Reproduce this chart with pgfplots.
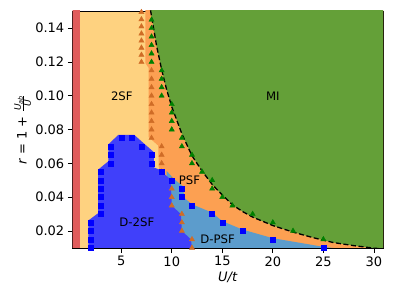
\documentclass[border=0pt]{standalone}
\usepackage{amsmath}
\usepackage{pgfplots}
\pgfplotsset{compat=1.18}
\usepackage{fontspec}
\setmainfont{DejaVu Sans}
\definecolor{lorange}{RGB}{254,210,128}
\definecolor{porange}{RGB}{252,160,82}
\definecolor{mgreen}{RGB}{100,160,56}
\definecolor{dblue}{RGB}{64,64,250}
\definecolor{lblue}{RGB}{92,156,204}
\definecolor{redband}{RGB}{224,92,92}
\definecolor{triorange}{RGB}{208,108,38}
\definecolor{trigreen}{RGB}{0,128,0}
\definecolor{sqblue}{RGB}{0,0,255}
\begin{document}
\begin{tikzpicture}
\path[use as bounding box] (-72.7pt,-48pt) rectangle (321.3pt,248pt);
\begin{axis}[
  scale only axis, width=310.3pt, height=237pt,
  xmin=0.2, xmax=30.9, ymin=0.0099, ymax=0.1502,
  xtick={5,10,15,20,25,30},
  ytick={0.02,0.04,0.06,0.08,0.10,0.12,0.14},
  scaled y ticks=false,
  yticklabel style={/pgf/number format/fixed, /pgf/number format/fixed zerofill, /pgf/number format/precision=2},
  /pgf/number format/assume math mode=true,
  tick align=outside, tick pos=left, major tick length=4.9pt,
  tick style={black, line width=0.8pt},
  tick label style={font=\fontsize{13}{15}\selectfont},
  axis line style={line width=0.9pt},
  axis background/.style={fill=lorange},
  xlabel={\textit{U/t}},
  ylabel={\textit{r} = 1 + $\frac{\textit{U}_{\textit{ab}}}{\textit{U}}$},
  label style={font=\fontsize{13}{15}\selectfont},
  xlabel style={at={(axis description cs:0.5,-0.1224)}, anchor=center},
  ylabel style={at={(axis description cs:-0.161,0.5)}, anchor=center},
]
% PSF orange region
\addplot[fill=porange, draw=none] coordinates {
(7.38,0.16) (7.38,0.1195) (7.72,0.1165) (7.72,0.0755) (8.66,0.0705) (8.72,0.0565)
(10,0.045) (12,0.005) (32,0.005) (32,0.16)};
% D-PSF light blue
\addplot[fill=lblue, draw=none] coordinates {
(9.5,0.0555) (10.2,0.0508) (11.1,0.0465) (11.25,0.0395) (12,0.0358) (14,0.0308)
(15,0.0258) (17,0.0208) (20,0.0157) (25,0.0106) (26.5,0.0095) (26.5,0.005) (9.5,0.005)};
% D-2SF blue
\addplot[fill=dblue, draw=none] coordinates {
(1.75,0.005) (1.75,0.0262) (2.72,0.0305) (2.72,0.0563) (3.72,0.0612) (3.72,0.0712)
(4.7,0.0768) (6.3,0.0768) (7.3,0.0715) (8.2,0.0668) (8.25,0.0575) (8.7,0.0565)
(9.9,0.0505) (10.0,0.035) (10.9,0.03) (11.0,0.02) (11.9,0.015) (12.1,0.005)};
% MI green
\addplot[fill=mgreen, draw=none] coordinates {
(7.85,0.16) (7.9,0.1506) (8.5,0.1295) (9,0.1155) (9.5,0.1035) (10,0.0935) (11,0.0775)
(12,0.0645) (13,0.0555) (14,0.0475) (15,0.0413) (16,0.0355) (17,0.0315) (18,0.0282)
(20,0.0232) (22,0.0193) (24,0.0160) (26,0.0131) (28,0.0113) (30,0.0098) (31,0.0093)
(32,0.0093) (32,0.16)};
% red band
\addplot[fill=redband, draw=none] coordinates {(0,0.005) (0.93,0.005) (0.93,0.16) (0,0.16)};
% dashed boundary
\addplot[black, line width=1.3pt, dash pattern=on 5pt off 2.6pt] coordinates {
(7.9,0.1506) (8.5,0.1295) (9,0.1155) (9.5,0.1035) (10,0.0935) (11,0.0775)
(12,0.0645) (13,0.0555) (14,0.0475) (15,0.0413) (16,0.0355) (17,0.0315) (18,0.0282)
(20,0.0232) (22,0.0193) (24,0.0160) (26,0.0131) (28,0.0113) (30,0.0098) (31,0.0093)};
% orange triangles
\addplot[only marks, mark=triangle*, mark size=3pt, color=triorange] coordinates {
(7,0.1495) (7,0.1452) (7,0.141) (7,0.1368) (7,0.1326) (7,0.1284) (7,0.1242) (7,0.12)
(8,0.115) (8,0.11) (8,0.105) (8,0.1) (8,0.095) (8,0.09) (8,0.085) (8,0.08) (8,0.075)
(9,0.07) (9,0.065) (9,0.06) (9,0.055)
(10,0.05) (10,0.045) (10,0.04) (10,0.035)
(11,0.03) (11,0.025) (11,0.02)
(12,0.015) (12,0.01)};
% green triangles
\addplot[only marks, mark=triangle*, mark size=3pt, color=trigreen] coordinates {
(8,0.145) (8,0.14) (8,0.135) (8,0.13) (8,0.125) (8,0.12)
(9,0.115) (9,0.11) (9,0.105) (9,0.1)
(10,0.095) (10,0.09) (10,0.085) (10,0.08)
(11,0.075) (11,0.07) (12,0.065) (12,0.06) (13,0.055) (14,0.05) (14,0.045)
(15,0.04) (16,0.035) (18,0.03) (20,0.025) (22,0.02) (25,0.015)};
% blue squares
\addplot[only marks, mark=square*, mark size=2.5pt, color=sqblue] coordinates {
(2,0.025) (2,0.02) (2,0.015) (2,0.01)
(3,0.055) (3,0.05) (3,0.045) (3,0.04) (3,0.035) (3,0.03)
(4,0.07) (4,0.065) (4,0.06)
(5,0.075) (6,0.075) (7,0.07) (8,0.065) (8,0.06) (9,0.055) (10,0.05)
(11,0.045) (11,0.04) (12,0.035) (14,0.03) (15,0.025) (17,0.02) (20,0.015) (25,0.01)};
\node[font=\fontsize{11.7}{14}\selectfont] at (axis cs:5.06,0.0999) {2SF};
\node[font=\fontsize{11.7}{14}\selectfont] at (axis cs:20,0.1) {MI};
\node[font=\fontsize{11.7}{14}\selectfont] at (axis cs:11.75,0.05) {PSF};
\node[font=\fontsize{11.7}{14}\selectfont] at (axis cs:6.55,0.0249) {D-2SF};
\node[font=\fontsize{11.7}{14}\selectfont] at (axis cs:14.53,0.0151) {D-PSF};
\end{axis}
\end{tikzpicture}
\end{document}
